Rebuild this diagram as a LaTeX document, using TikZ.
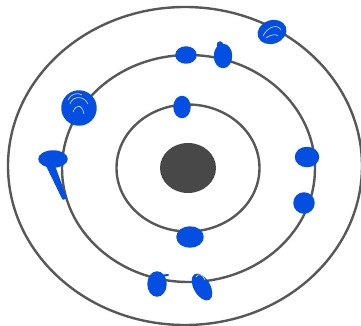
\documentclass[tikz,border=0pt]{standalone}
\usepackage{tikz}

\definecolor{ringgray}{RGB}{88,88,88}
\definecolor{nucgray}{RGB}{72,72,72}
\definecolor{penblue}{RGB}{4,78,226}

\begin{document}
\begin{tikzpicture}[x=1pt, y=-1pt, line cap=round, line join=round,
    shell/.style={draw=ringgray, line width=2.4pt},
    electron/.style={fill=penblue, draw=penblue, line width=1.5pt},
    scribble/.style={draw=white, line width=0.5pt}]
	\useasboundingbox (0,0) rectangle (361,326);
	\fill[white] (0,0) rectangle (361,326);
	% shells
	\draw[shell] (185,166) ellipse [x radius=177, y radius=159];
	\draw[shell] (188.5,168.5) ellipse [x radius=126.5, y radius=113.5];
	\draw[shell] (188,168) ellipse [x radius=71.5, y radius=63.5];
	% nucleus
	\fill[nucgray] (188,168) ellipse [x radius=28, y radius=25];
	% outer electrons
	\filldraw[electron, rotate around={20:(272,32)}] (272,32) ellipse [x radius=14, y radius=11];
	\draw[scribble] (263,36) .. controls (268,26) and (278,24) .. (281,30);
	\draw[scribble] (266,38) .. controls (272,34) and (276,34) .. (278,36);
	% middle electrons
	\filldraw[electron] (186,55) ellipse [x radius=10, y radius=8];
	\filldraw[electron] (223,56) ellipse [x radius=8.5, y radius=11.5];
	\filldraw[electron] (220,45) ellipse [x radius=2.5, y radius=3];
	\filldraw[electron] (79,108) ellipse [x radius=17, y radius=17];
	\draw[scribble] (70,104) .. controls (72,96) and (84,95) .. (88,104);
	\draw[scribble] (73,112) .. controls (76,104) and (82,104) .. (84,114);
	\draw[scribble] (68,100) .. controls (70,94) and (78,92) .. (82,95);
	\filldraw[electron] (53,159) ellipse [x radius=14, y radius=8];
	\filldraw[electron] (44,160) -- (54,165) -- (66,198) -- (63,199) -- cycle;
	\filldraw[electron] (307,157) ellipse [x radius=11.5, y radius=9.5];
	\filldraw[electron] (304,203) ellipse [x radius=10, y radius=10];
	\filldraw[electron] (157,284) ellipse [x radius=9, y radius=12];
	\draw[penblue, line width=2pt] (160,276) -- (168,275);
	\filldraw[electron, rotate around={30:(202,287)}] (202,287) ellipse [x radius=7.5, y radius=14];
	\draw[scribble] (196,277) .. controls (198,273) and (203,274) .. (205,280);
	% inner electrons
	\filldraw[electron] (182,107) ellipse [x radius=8, y radius=10.5];
	\filldraw[electron] (190,237) ellipse [x radius=13, y radius=10];
\end{tikzpicture}
\end{document}
